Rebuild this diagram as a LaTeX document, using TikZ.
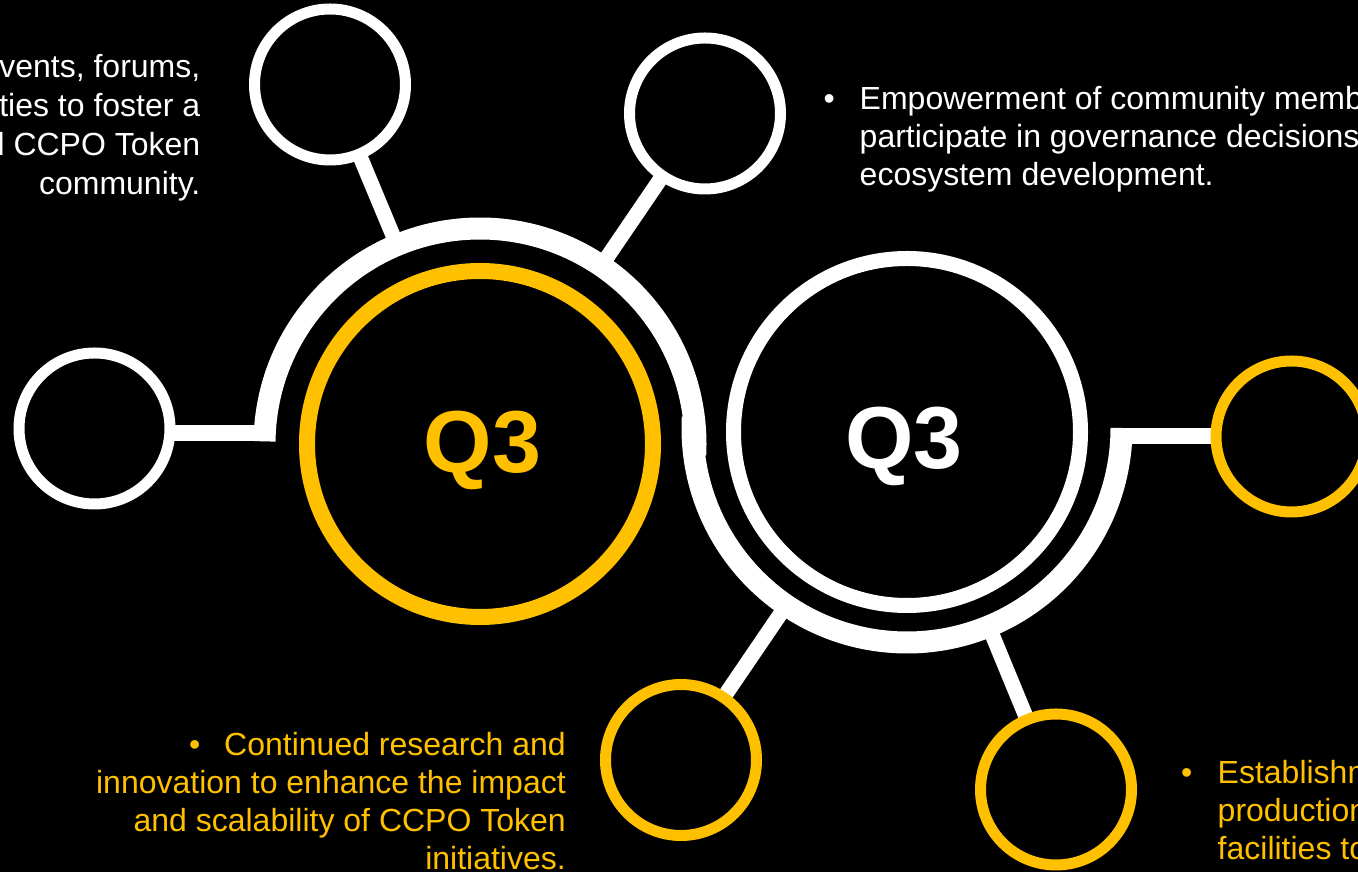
\documentclass[tikz,border=0pt]{standalone}
\usepackage{fontspec}
\setmainfont{Liberation Sans}
\usetikzlibrary{calc}
\definecolor{gold}{HTML}{FFC000}
\pgfdeclarelayer{bg}
\pgfsetlayers{bg,main}
\begin{document}
\begin{tikzpicture}[x=1pt,y=1pt,
  ring/.style={circle, draw=white, line width=11pt, fill=black, minimum size=151pt, inner sep=0pt},
  gring/.style={ring, draw=gold},
  bigring/.style={circle, fill=black, inner sep=0pt},
  conn/.style={draw=white, line width=15pt},
  bar/.style={draw=white, line width=16pt},
  band/.style={draw=white, line width=22pt},
  txt/.style={font=\fontsize{32}{38}\selectfont, inner sep=0pt},
  qtxt/.style={font=\fontsize{88}{100}\selectfont\bfseries, inner sep=0pt}]
\useasboundingbox (0,0) rectangle (1358,872);

% big circles
\node[bigring, draw=gold, line width=16pt, minimum size=346pt] (Y) at (480,428) {};
\node[bigring, draw=white, line width=15pt, minimum size=347pt] (W) at (907,440) {};
\coordinate (Rc) at (907,444);

% small circles
\node[ring] (tl) at (330,787.5) {};
\node[ring] (tm) at (705,758.5) {};
\node[ring] (lc) at (94.5,443.5) {};
\node[gring] (rc) at (1291.5,435.5) {};
\node[gring] (bm) at (681,112) {};
\node[gring] (br) at (1056,82.5) {};

\coordinate (lb) at (264.5,438.5);
\coordinate (rb) at (1121.5,436);

\begin{pgfonlayer}{bg}
\fill[black] (0,0) rectangle (1358,872);
\draw[band] (Y.center) ++(179.3:215.5) arc[start angle=179.3,end angle=-3,radius=215.5];
\draw[band] (Rc) ++(177:214.5) arc[start angle=177,end angle=360,radius=214.5];
\draw[conn] (tl.center) -- ($(Y.center)!215.5pt!(tl.center)$);
\draw[conn] (tm.center) -- ($(Y.center)!215.5pt!(tm.center)$);
\draw[conn] (bm.center) -- ($(Rc)!214.5pt!(bm.center)$);
\draw[conn] (br.center) -- ($(Rc)!214.5pt!(br.center)$);
\draw[bar] (lb -| lc.center) -- (lb);
\draw[bar] (rb) -- (rb -| rc.center);
\end{pgfonlayer}

% Q3 labels
\node[qtxt, text=gold, anchor=base] (q1) at (482.5,399) {Q3};
\node[qtxt, text=white, anchor=base] (q2) at (904,403) {Q3};

% top-left text
\node[txt, text=white, anchor=base east] (t1a) at (200.5,794) {vents, forums,};
\node[txt, text=white, anchor=base east] (t1b) at (200.5,755) {ties to foster a};
\node[txt, text=white, anchor=base east] (t1c) at (200.5,716) {d CCPO Token};
\node[txt, text=white, anchor=base east] (t1d) at (200.5,677) {community.};

% top-right text
\node[txt, text=white, anchor=base west] (t2b) at (823.5,762) {•};
\node[txt, text=white, anchor=base west] (t2a) at (859.5,762) {Empowerment of community memb};
\node[txt, text=white, anchor=base west] (t2c) at (859.5,724) {participate in governance decisions};
\node[txt, text=white, anchor=base west] (t2d) at (859.5,686) {ecosystem development.};

% bottom-left text
\node[txt, text=gold, anchor=base east] (t3a) at (566,116) {•\hspace{24pt}Continued research and};
\node[txt, text=gold, anchor=base east] (t3b) at (566,78) {innovation to enhance the impact};
\node[txt, text=gold, anchor=base east] (t3c) at (566,40) {and scalability of CCPO Token};
\node[txt, text=gold, anchor=base east, text depth=0pt] (t3d) at (566,2) {initiatives.};

% bottom-right text
\node[txt, text=gold, anchor=base west] (t4b) at (1181,88.5) {•};
\node[txt, text=gold, anchor=base west] (t4a) at (1217.5,88.5) {Establishm};
\node[txt, text=gold, anchor=base west] (t4c) at (1217.5,50.5) {production};
\node[txt, text=gold, anchor=base west] (t4d) at (1217.5,12.5) {facilities to};
\end{tikzpicture}
\end{document}
